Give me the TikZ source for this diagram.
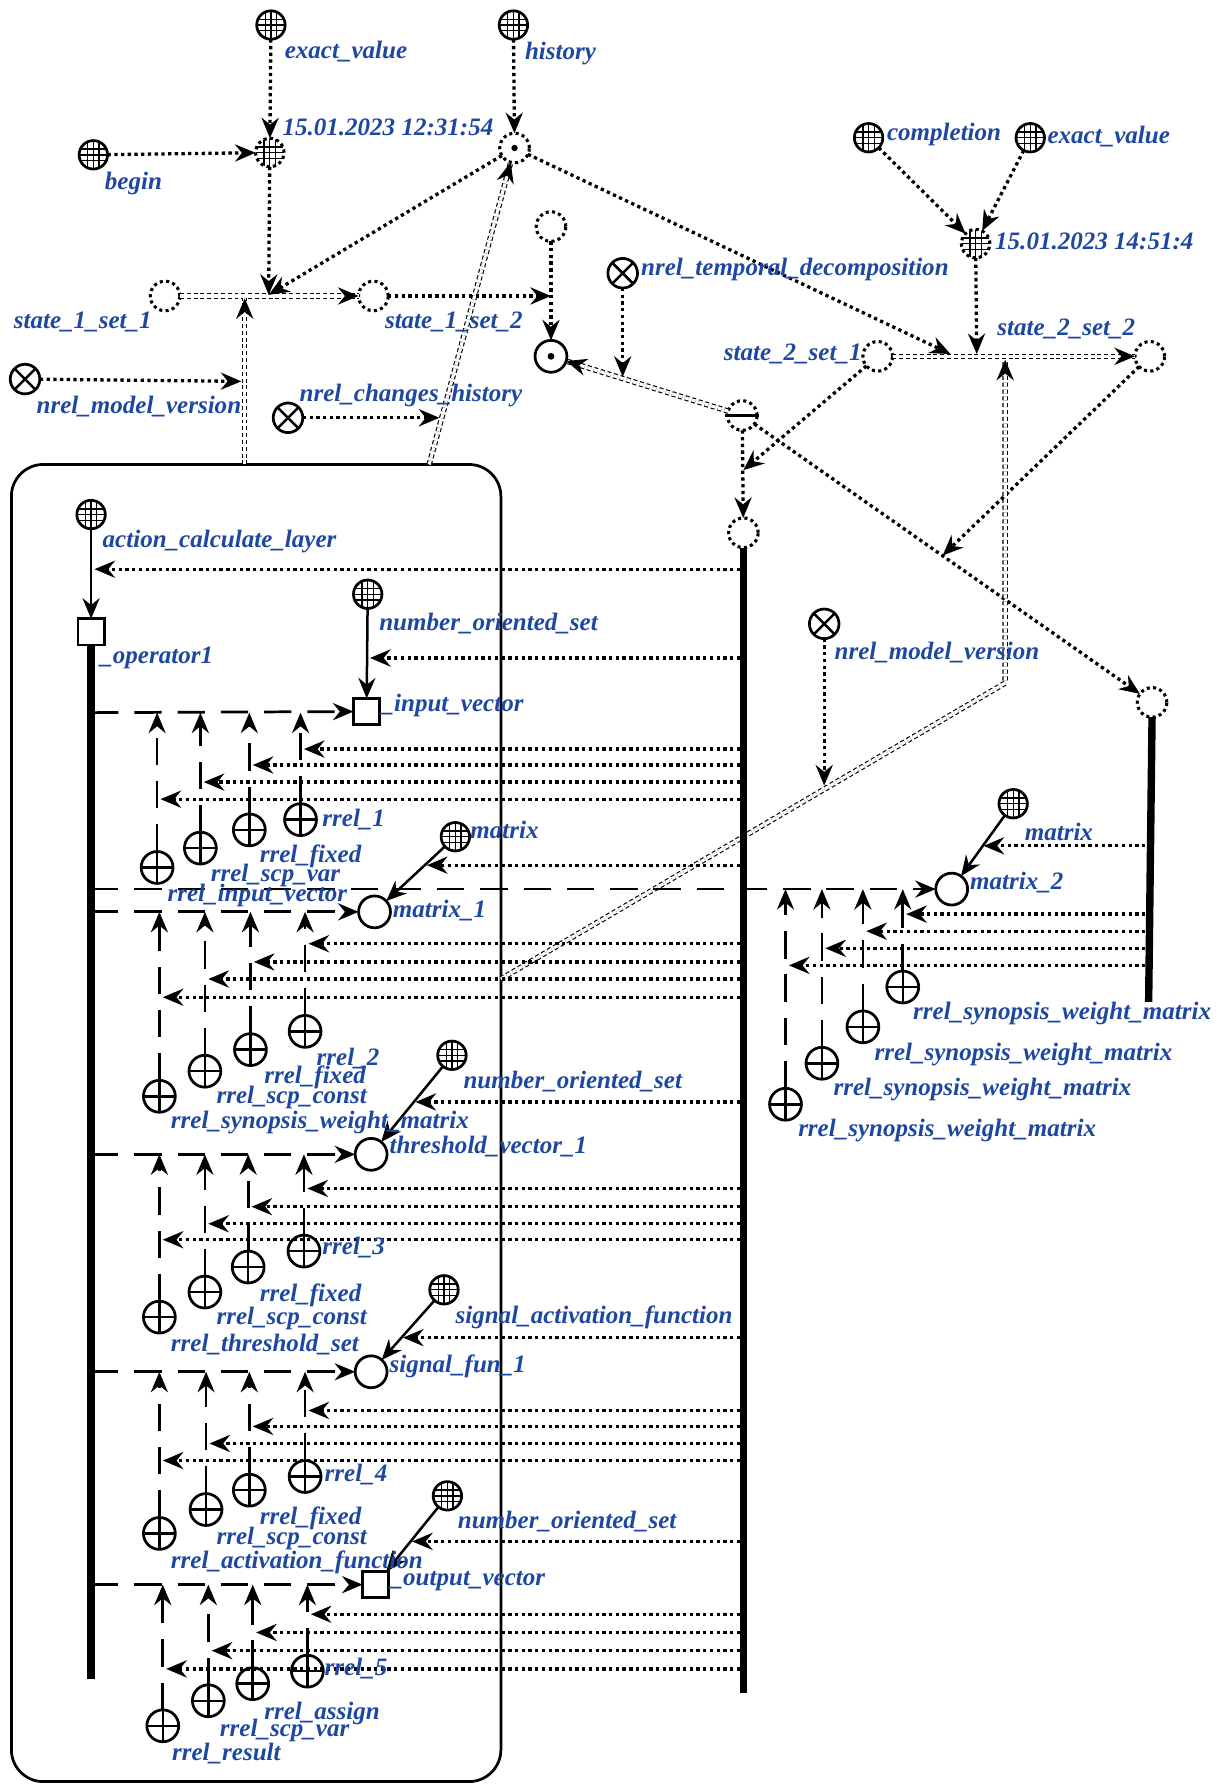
\documentclass[tikz,border=0pt]{standalone}
\usepackage{fontspec}
\setmainfont{Liberation Serif}
\usetikzlibrary{arrows.meta,calc,decorations.markings}
\definecolor{labblue}{RGB}{30,72,160}
\begin{document}
\begin{tikzpicture}[x=1pt,y=-1pt,
  nbase/.style={circle, inner sep=0pt, outer sep=0pt, minimum size=25pt},
  solidc/.style={nbase, draw, line width=2.4pt},
  dotc/.style={nbase, draw, line width=2.7pt, dash pattern=on 2.7pt off 2.9pt},
  gridpic/.style={path picture={
      \foreach \d in {-5,0,5}{
        \draw[solid,line width=1.2pt] ([xshift=\d pt]path picture bounding box.north) -- ([xshift=\d pt]path picture bounding box.south);
        \draw[solid,line width=1.2pt] ([yshift=\d pt]path picture bounding box.west) -- ([yshift=\d pt]path picture bounding box.east);}}},
  globe/.style={solidc, gridpic},
  vgrid/.style={dotc, gridpic},
  vnode/.style={dotc, minimum size=26pt},
  vtuple/.style={dotc, minimum size=26pt, path picture={\fill (path picture bounding box.center) circle (2.8pt);}},
  ctuple/.style={solidc, minimum size=28pt, path picture={\fill (path picture bounding box.center) circle (3pt);}},
  nrel/.style={solidc, minimum size=26pt, path picture={\draw[solid,line width=2.2pt] (path picture bounding box.north west) -- (path picture bounding box.south east) (path picture bounding box.north east) -- (path picture bounding box.south west);}},
  rrel/.style={solidc, minimum size=28pt, path picture={\draw[solid,line width=2.2pt] (path picture bounding box.north) -- (path picture bounding box.south) (path picture bounding box.west) -- (path picture bounding box.east);}},
  elem/.style={solidc, minimum size=28pt},
  sqn/.style={rectangle, draw, line width=2.4pt, minimum size=23pt, inner sep=0pt, outer sep=0pt},
  lab/.style={anchor=west, inner sep=0pt, text=labblue, font=\fontsize{22}{24}\selectfont\bfseries\itshape},
  arr/.style={-{Stealth[length=18pt,width=15pt,inset=6pt]}},
  dotl/.style={line width=2.9pt, dash pattern=on 2.9pt off 3pt},
  dsh/.style={line width=2.4pt, dash pattern=on 24pt off 14pt},
  sol/.style={line width=2.2pt},
  dbl/.style={line width=1pt, double distance=2.8pt, dash pattern=on 3.5pt off 2.5pt},
  dblarr/.style={dbl, postaction={decorate, decoration={markings, mark=at position 1 with {\arrow[solid]{Stealth[length=18pt,width=15pt,inset=6pt]}}}}},
  bus/.style={line width=6.5pt}
]
\useasboundingbox (0,0) rectangle (1080,1568);
\fill[white] (0,0) rectangle (1080,1568);

% contour
\node[draw, line width=2.4pt, rounded corners=28pt, minimum width=430pt, minimum height=1157pt, inner sep=0pt] (ctr) at (225,986.5) {};

% ---------- top nodes ----------
\node[globe] (gev1) at (238,22) {};
\node[globe] (ghist) at (451,22) {};
\node[vgrid] (t1) at (237,134) {};
\node[globe] (gbeg) at (82,136) {};
\node[vtuple] (th) at (452,130) {};
\node[vnode] (s11) at (145,260) {};
\node[vnode] (s12) at (328,260) {};
\node[vnode] (vtop) at (484,199) {};
\node[ctuple] (ct) at (484,313) {};
\node[nrel] (ntd) at (547,240) {};
\node[vnode] (tm) at (652,365) {};
\draw[line width=3pt] ([xshift=-2pt]tm.west) -- ([xshift=2pt]tm.east);
\node[vnode] (v2) at (653,468) {};
\node[vnode] (v3) at (1012,617) {};
\node[vnode] (s21) at (771,313) {};
\node[vnode] (s22) at (1010,313) {};
\node[vgrid] (t2) at (857,214) {};
\node[globe] (gcomp) at (763,121) {};
\node[globe] (gev2) at (905,121) {};
\node[nrel] (nmv1) at (22,333) {};
\node[nrel] (nch) at (253,367) {};
\node[nrel] (nmv2) at (724,548) {};

% ---------- top connectors ----------
\draw[dotl,arr] (gev1) -- (t1);
\draw[dotl,arr] (ghist) -- (th);
\draw[dotl,arr] (gbeg) -- (t1);
\draw[dblarr] (s11) -- (s12);
\coordinate (pA) at (236,259);
\draw[dotl,arr] (t1) -- (pA);
\draw[dotl,arr] (th) -- (pA);
\coordinate (pO) at (215,408);
\coordinate (pB) at (215,262);
\draw[dblarr] (pO) -- (pB);
\coordinate (pP) at (212,335);
\draw[dotl,arr] (nmv1) -- (pP);
\coordinate (pM) at (377,408);
\draw[dblarr] (pM) -- (th);
\coordinate (pN) at (386,367);
\draw[dotl,arr] (nch) -- (pN);
\draw[dotl,arr] (vtop) -- (ct);
\coordinate (pC) at (484,260);
\draw[dotl,arr] (s12) -- (pC);
\draw[dblarr] (tm) -- (ct);
\coordinate (pD) at (547,331);
\draw[dotl,arr] (ntd) -- (pD);
\draw[dotl,arr] (tm) -- (v2);
\coordinate (pE) at (653,413);
\draw[dotl,arr] (s21) -- (pE);
\draw[dotl,arr] (tm) -- (v3);
\coordinate (pF) at (828,488);
\draw[dotl,arr] (s22) -- (pF);
\draw[dblarr] (s21) -- (s22);
\coordinate (pG) at (835,311);
\draw[dotl,arr] (th) -- (pG);
\coordinate (pH) at (858,311);
\draw[dotl,arr] (t2) -- (pH);
\draw[dotl,arr] (gcomp) -- (t2);
\draw[dotl,arr] (gev2) -- (t2);
\coordinate (pK) at (440,860);
\coordinate (pJ) at (883,600);
\coordinate (pI) at (883,316);
\draw[dblarr] (pK) -- (pJ) -- (pI);
\coordinate (pL) at (724,690);
\draw[dotl,arr] (nmv2) -- (pL);

% ---------- buses ----------
\coordinate (rbus) at (650,0);
\coordinate (rbus2) at (1006,0);
\node[globe] (gacl) at (80,452) {};
\node[sqn] (op1) at (80,555) {};
\draw[sol,arr] (gacl) -- (op1);
\coordinate (pQ) at (83,500);
\draw[dotl,arr] (pQ -| rbus) -- (pQ);
\coordinate (lbe) at (80,1475);
\draw[bus] (op1.south) -- (lbe);
\coordinate (rbe) at (653,1487);
\draw[bus] (v2.south) -- (rbe);
\coordinate (rbe2) at (1009,880);
\draw[bus] (v3.south) -- (rbe2);

% ---------- group 1 : _input_vector ----------
\node[globe] (gnos1) at (323,522) {};
\node[sqn] (iv) at (322,625) {};
\draw[sol,arr] (gnos1) -- (iv);
\coordinate (pR) at (325,578);
\draw[dotl,arr] (pR -| rbus) -- (pR);
\coordinate (b1) at (80,626);
\draw[dsh,arr] (b1) -- (iv);
\foreach \i/\x/\y/\d in {1/138/762/702,2/176/745/687,3/219/729/672,4/264/720/658}{
  \node[rrel] (ra\i) at (\x,\y) {};
  \coordinate (rat\i) at (\x,626);
  \draw[dsh,arr] (ra\i) -- (rat\i);
  \coordinate (rad\i) at ({\x+3},\d);
  \draw[dotl,arr] (rad\i -| rbus) -- (rad\i);
}

% ---------- group 2 : matrix_1 ----------
\node[globe] (gm1) at (400,735) {};
\node[elem] (m1) at (329,801) {};
\draw[sol,arr] (gm1) -- (m1);
\coordinate (pS) at (375,760);
\draw[dotl,arr] (pS -| rbus) -- (pS);
\coordinate (b2) at (80,801);
\draw[dsh,arr] (b2) -- (m1);
\foreach \i/\x/\y/\d in {1/140/963/876,2/180/941/860,3/220/922/845,4/268/906/829}{
  \node[rrel] (rb\i) at (\x,\y) {};
  \coordinate (rbt\i) at (\x,801);
  \draw[dsh,arr] (rb\i) -- (rbt\i);
  \coordinate (rbd\i) at ({\x+3},\d);
  \draw[dotl,arr] (rbd\i -| rbus) -- (rbd\i);
}

% ---------- group 3 : threshold_vector_1 ----------
\node[globe] (gnos2) at (397,927) {};
\node[elem] (tv) at (326,1014) {};
\draw[sol,arr] (gnos2) -- (tv);
\coordinate (pT) at (365,968);
\draw[dotl,arr] (pT -| rbus) -- (pT);
\coordinate (b3) at (80,1014);
\draw[dsh,arr] (b3) -- (tv);
\foreach \i/\x/\y/\d in {1/140/1157/1089,2/180/1135/1075,3/218/1113/1060,4/267/1099/1044}{
  \node[rrel] (rc\i) at (\x,\y) {};
  \coordinate (rct\i) at (\x,1014);
  \draw[dsh,arr] (rc\i) -- (rct\i);
  \coordinate (rcd\i) at ({\x+3},\d);
  \draw[dotl,arr] (rcd\i -| rbus) -- (rcd\i);
}

% ---------- group 4 : signal_fun_1 ----------
\node[globe] (gsaf) at (390,1133) {};
\node[elem] (sf) at (326,1205) {};
\draw[sol,arr] (gsaf) -- (sf);
\coordinate (pU) at (354,1175);
\draw[dotl,arr] (pU -| rbus) -- (pU);
\coordinate (b4) at (80,1205);
\draw[dsh,arr] (b4) -- (sf);
\foreach \i/\x/\y/\d in {1/140/1347/1283,2/181/1326/1268,3/219/1309/1253,4/268/1297/1239}{
  \node[rrel] (rd\i) at (\x,\y) {};
  \coordinate (rdt\i) at (\x,1205);
  \draw[dsh,arr] (rd\i) -- (rdt\i);
  \coordinate (rdd\i) at ({\x+3},\d);
  \draw[dotl,arr] (rdd\i -| rbus) -- (rdd\i);
}

% ---------- group 5 : _output_vector ----------
\node[globe] (gnos3) at (393,1314) {};
\node[sqn] (ov) at (330,1392) {};
\draw[sol,arr] (gnos3) -- (ov);
\coordinate (pV) at (362,1354);
\draw[dotl,arr] (pV -| rbus) -- (pV);
\coordinate (b5) at (80,1392);
\draw[dsh,arr] (b5) -- (ov);
\foreach \i/\x/\y/\d in {1/143/1516/1466,2/183/1494/1450,3/222/1479/1434,4/270/1468/1418}{
  \node[rrel] (re\i) at (\x,\y) {};
  \coordinate (ret\i) at (\x,1392);
  \draw[dsh,arr] (re\i) -- (ret\i);
  \coordinate (red\i) at ({\x+3},\d);
  \draw[dotl,arr] (red\i -| rbus) -- (red\i);
}

% ---------- group 6 : matrix_2 ----------
\node[globe] (gm2) at (890,706) {};
\node[elem] (m2) at (836,781) {};
\draw[sol,arr] (gm2) -- (m2);
\coordinate (pW) at (864,743);
\draw[dotl,arr] (pW -| rbus2) -- (pW);
\coordinate (b6) at (80,781);
\draw[dsh,arr] (b6) -- (m2);
\foreach \i/\x/\y/\d in {1/690/970/848,2/722/934/833,3/758/902/818,4/793/867/803}{
  \node[rrel] (rf\i) at (\x,\y) {};
  \coordinate (rft\i) at (\x,781);
  \draw[dsh,arr] (rf\i) -- (rft\i);
  \coordinate (rfd\i) at ({\x+3},\d);
  \draw[dotl,arr] (rfd\i -| rbus2) -- (rfd\i);
}

% ---------- labels ----------
\node[lab] (l1) at (250,45) {exact\_value};
\node[lab] (l2) at (461,47) {history};
\node[lab] (l3) at (248,112) {15.01.2023 12:31:54};
\node[lab] (l4) at (92,161) {begin};
\node[lab] (l5) at (12,283) {state\_1\_set\_1};
\node[lab] (l6) at (338,283) {state\_1\_set\_2};
\node[lab] (l7) at (32,357) {nrel\_model\_version};
\node[lab] (l8) at (263,347) {nrel\_changes\_history};
\node[lab] (l9) at (563,237) {nrel\_temporal\_decomposition};
\node[lab] (l10) at (779,118) {completion};
\node[lab] (l11) at (920,120) {exact\_value};
\node[lab] (l12) at (874,212) {15.01.2023 14:51:4};
\node[lab, anchor=east] (l13) at (757,311) {state\_2\_set\_1};
\node[lab] (l14) at (876,289) {state\_2\_set\_2};
\node[lab] (l15) at (733,573) {nrel\_model\_version};
\node[lab] (l16) at (90,476) {action\_calculate\_layer};
\node[lab] (l17) at (88,578) {\_operator1};
\node[lab] (l18) at (333,548) {number\_oriented\_set};
\node[lab] (l19) at (335,620) {\_input\_vector};
\node[lab] (l20) at (283,720) {rrel\_1};
\node[lab] (l21) at (228,752) {rrel\_fixed};
\node[lab] (l22) at (185,769) {rrel\_scp\_var};
\node[lab] (l23) at (147,787) {rrel\_input\_vector};
\node[lab] (l24) at (413,729) {matrix};
\node[lab] (l25) at (345,800) {matrix\_1};
\node[lab] (l26) at (278,930) {rrel\_2};
\node[lab] (l27) at (232,946) {rrel\_fixed};
\node[lab] (l28) at (190,964) {rrel\_scp\_const};
\node[lab] (l29) at (150,986) {rrel\_synopsis\_weight\_matrix};
\node[lab] (l30) at (407,950) {number\_oriented\_set};
\node[lab] (l31) at (342,1007) {threshold\_vector\_1};
\node[lab] (l32) at (283,1096) {rrel\_3};
\node[lab] (l33) at (228,1138) {rrel\_fixed};
\node[lab] (l34) at (190,1158) {rrel\_scp\_const};
\node[lab] (l35) at (150,1181) {rrel\_threshold\_set};
\node[lab] (l36) at (400,1157) {signal\_activation\_function};
\node[lab] (l37) at (342,1200) {signal\_fun\_1};
\node[lab] (l38) at (285,1295) {rrel\_4};
\node[lab] (l39) at (228,1334) {rrel\_fixed};
\node[lab] (l40) at (190,1351) {rrel\_scp\_const};
\node[lab] (l41) at (150,1372) {rrel\_activation\_function};
\node[lab] (l42) at (402,1337) {number\_oriented\_set};
\node[lab] (l43) at (343,1389) {\_output\_vector};
\node[lab] (l44) at (285,1466) {rrel\_5};
\node[lab] (l45) at (232,1505) {rrel\_assign};
\node[lab] (l46) at (193,1520) {rrel\_scp\_var};
\node[lab] (l47) at (151,1540) {rrel\_result};
\node[lab] (l48) at (900,731) {matrix};
\node[lab] (l49) at (852,775) {matrix\_2};
\node[lab] (l50) at (802,890) {rrel\_synopsis\_weight\_matrix};
\node[lab] (l51) at (768,926) {rrel\_synopsis\_weight\_matrix};
\node[lab] (l52) at (732,957) {rrel\_synopsis\_weight\_matrix};
\node[lab] (l53) at (701,993) {rrel\_synopsis\_weight\_matrix};
\end{tikzpicture}
\end{document}
